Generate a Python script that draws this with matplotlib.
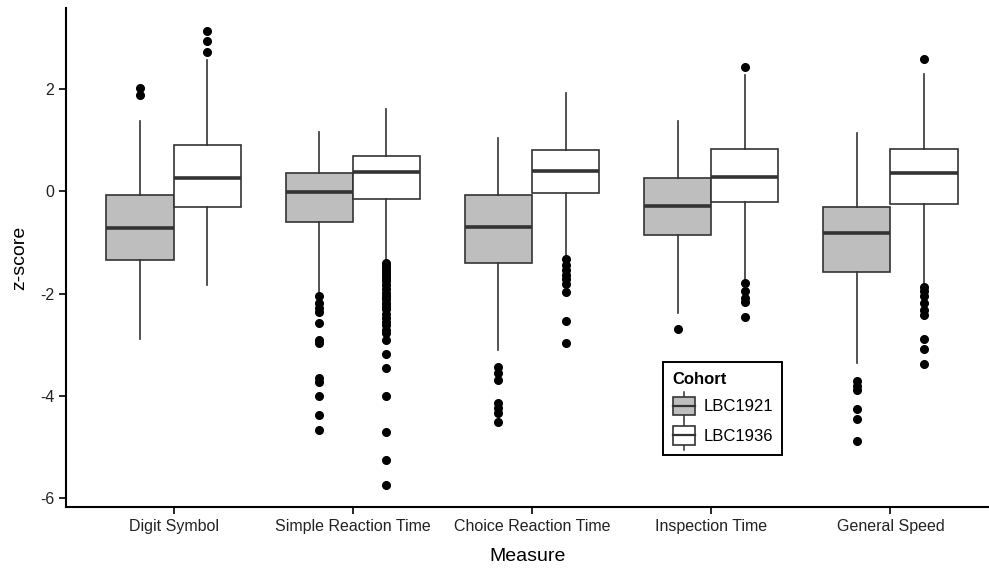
import matplotlib.pyplot as plt
from matplotlib.legend_handler import HandlerBase
from matplotlib.patches import Rectangle
from matplotlib.lines import Line2D

plt.rcParams['font.family'] = ['Liberation Sans', 'DejaVu Sans']
plt.rcParams['axes.unicode_minus'] = False

measures = ["Digit Symbol", "Simple Reaction Time", "Choice Reaction Time",
            "Inspection Time", "General Speed"]
cohorts = ["LBC1921", "LBC1936"]

# box stats: whislo, q1, median, q3, whishi
lbc1921_stats = [
    [-2.88, -1.34, -0.71, -0.08, 1.38],
    [-1.98, -0.59, -0.01, 0.365, 1.16],
    [-3.11, -1.40, -0.69, -0.08, 1.04],
    [-2.38, -0.85, -0.29, 0.27, 1.38],
    [-3.35, -1.57, -0.81, -0.30, 1.15],
]
lbc1936_stats = [
    [-1.83, -0.30, 0.27, 0.90, 2.57],
    [-1.37, -0.14, 0.37, 0.70, 1.62],
    [-1.27, -0.03, 0.39, 0.81, 1.93],
    [-1.76, -0.21, 0.29, 0.83, 2.27],
    [-1.82, -0.25, 0.35, 0.83, 2.29],
]
lbc1921_outliers = [
    [2.02, 1.88],
    [-2.04, -2.18, -2.28, -2.36, -2.58, -2.90, -2.96, -3.64, -3.72, -4.00, -4.38, -4.66],
    [-3.44, -3.55, -3.68, -4.13, -4.23, -4.33, -4.51],
    [-2.69],
    [-3.71, -3.81, -3.89, -4.25, -4.45, -4.87],
]
lbc1936_outliers = [
    [3.14, 2.93, 2.72],
    [-1.40, -1.46, -1.52, -1.58, -1.64, -1.70, -1.76, -1.83, -1.90, -1.98, -2.05,
     -2.10, -2.18, -2.24, -2.30, -2.40, -2.48, -2.56, -2.62, -2.70, -2.76,
     -2.91, -3.17, -3.46, -4.00, -4.71, -5.26, -5.73],
    [-1.33, -1.43, -1.53, -1.63, -1.72, -1.82, -1.97, -2.53, -2.97],
    [2.43, -1.80, -1.95, -2.08, -2.17, -2.45],
    [2.59, -1.87, -1.95, -2.05, -2.18, -2.31, -2.41, -2.88, -3.08, -3.37],
]

fills = {"LBC1921": "#bebebe", "LBC1936": "white"}
edge = "#333333"


def to_bxp(stats, outliers):
    out = []
    for (lo, q1, med, q3, hi), fl in zip(stats, outliers):
        out.append(dict(whislo=lo, q1=q1, med=med, q3=q3, whishi=hi, fliers=fl))
    return out


fig = plt.figure(figsize=(9.89, 5.72), dpi=100)
ax = fig.add_axes([0.0667, 0.1136, 0.9333, 0.872])

width = 0.375
for k, (cohort, stats, outl) in enumerate(zip(cohorts,
                                               [lbc1921_stats, lbc1936_stats],
                                               [lbc1921_outliers, lbc1936_outliers])):
    pos = [i + 1 + (k - 0.5) * width for i in range(len(measures))]
    ax.bxp(to_bxp(stats, outl), positions=pos, widths=width, patch_artist=True,
           showcaps=False,
           boxprops=dict(facecolor=fills[cohort], edgecolor=edge, linewidth=1.2),
           whiskerprops=dict(color=edge, linewidth=1.2),
           medianprops=dict(color=edge, linewidth=2.6, solid_capstyle="butt"),
           flierprops=dict(marker="o", markerfacecolor="black", markeredgecolor="black",
                           markersize=5.5, linestyle="none"),
           zorder=3)


class BoxHandler(HandlerBase):
    # small boxplot glyph, like ggplot's legend key
    def create_artists(self, legend, orig_handle, xdescent, ydescent, width, height,
                       fontsize, trans):
        fc = orig_handle.get_facecolor()
        cx = width / 2
        bw = width * 0.92
        bh = height * 0.9
        y0 = -ydescent + (height - bh) / 2
        rect = Rectangle((cx - bw / 2, y0), bw, bh, facecolor=fc, edgecolor=edge,
                         linewidth=1.2, transform=trans)
        med = Line2D([cx - bw / 2, cx + bw / 2], [y0 + bh / 2] * 2, color=edge,
                     linewidth=1.6, transform=trans)
        wt = Line2D([cx, cx], [y0 + bh, y0 + bh + height * 0.25], color=edge,
                    linewidth=1.1, transform=trans)
        wb = Line2D([cx, cx], [y0, y0 - height * 0.25], color=edge,
                    linewidth=1.1, transform=trans)
        return [wt, wb, rect, med]


handles = [Rectangle((0, 0), 1, 1, facecolor=fills[c]) for c in cohorts]
leg = ax.legend(handles, cohorts, title="Cohort", loc="upper left",
                bbox_to_anchor=(0.647, 0.29), borderaxespad=0, frameon=True,
                fancybox=False, edgecolor="black", fontsize=12, title_fontsize=12,
                handler_map={Rectangle: BoxHandler()}, handlelength=1.4,
                handleheight=1.5, handletextpad=0.45, labelspacing=0.55,
                borderpad=0.55, alignment="left", framealpha=1)
leg.get_title().set_fontweight("bold")
leg.get_frame().set_linewidth(1.4)

ax.set_xlim(0.4, 5.55)
ax.set_ylim(-6.17, 3.58)
ax.set_xticks(range(1, len(measures) + 1))
ax.set_xticklabels(measures)
ax.set_yticks([-6, -4, -2, 0, 2])
ax.tick_params(labelsize=11.5, length=5, width=1.2, colors="black",
               labelcolor="#222222")
for s in ["top", "right"]:
    ax.spines[s].set_visible(False)
for s in ["left", "bottom"]:
    ax.spines[s].set_linewidth(1.5)
ax.set_xlabel("Measure", fontsize=14, labelpad=10)
ax.set_ylabel("z-score", fontsize=14, labelpad=8)

fig.savefig("out.png", dpi=100)
